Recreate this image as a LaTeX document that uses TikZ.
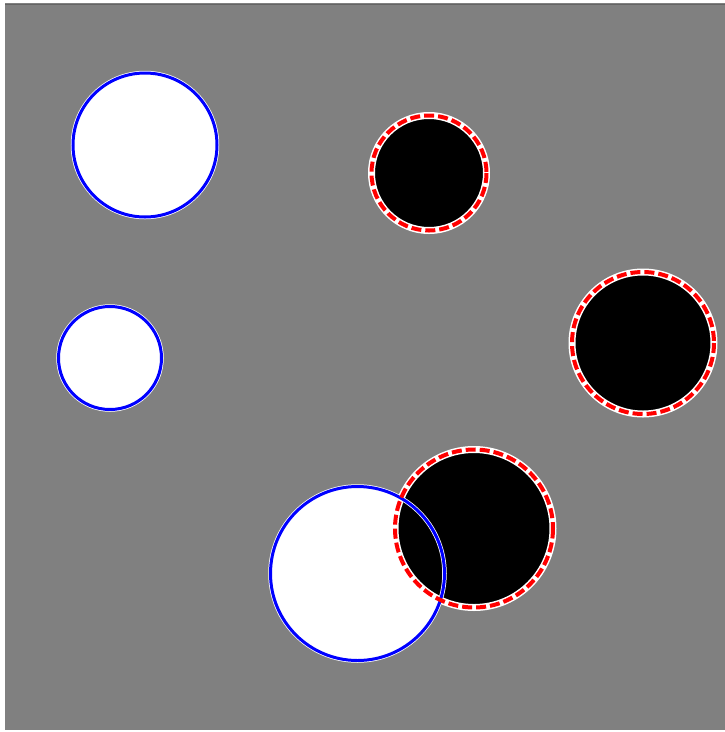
\documentclass[tikz,border=0pt]{standalone}
\definecolor{bggray}{RGB}{128,128,128}
\definecolor{edgegray}{RGB}{100,100,100}
\definecolor{pureblue}{RGB}{0,0,255}
\definecolor{purered}{RGB}{255,0,0}
\begin{document}
\begin{tikzpicture}[x=1pt,y=-1pt,
  bg/.style={fill=bggray},
  wdisk/.style={fill=white},
  bdisk/.style={fill=black},
  halo/.style={draw=white,line width=4.5pt},
  bluering/.style={draw=pureblue,line width=3pt},
  redhalo/.style={draw=white,line width=7pt},
  redring/.style={draw=purered,line width=4pt,dash pattern=on 10pt off 4pt}]
\useasboundingbox (0,0) rectangle (725,732);
\fill[white] (0,0) rectangle (725,732);
\fill[bg] (5,3) rectangle (725,730);
\draw[edgegray,line width=1.5pt] (5,4.5) -- (725,4.5);
% centres
\coordinate (w1) at (145,145);
\coordinate (w2) at (110,358);
\coordinate (w3) at (357.5,573.5);
\coordinate (k1) at (429,173);
\coordinate (k2) at (643,343);
\coordinate (k3) at (474,528.5);
% fills
\fill[wdisk] (w1) circle (72);
\fill[wdisk] (w2) circle (51.5);
\fill[wdisk] (w3) circle (87);
\fill[bdisk] (k1) circle (58.5);
\fill[bdisk] (k2) circle (72);
\fill[bdisk] (k3) circle (80);
% outlines
\draw[halo] (w1) circle (72);
\draw[halo] (w2) circle (51.5);
\draw[halo] (w3) circle (87);
\draw[redhalo] (k1) circle (57.5);
\draw[redhalo] (k2) circle (71);
\draw[redhalo] (k3) circle (79);
\draw[bluering] (w1) circle (72);
\draw[bluering] (w2) circle (51.5);
\draw[bluering] (w3) circle (87);
\draw[redring] (k1) circle (57.5);
\draw[redring] (k2) circle (71);
\draw[redring] (k3) circle (79);
\end{tikzpicture}
\end{document}
